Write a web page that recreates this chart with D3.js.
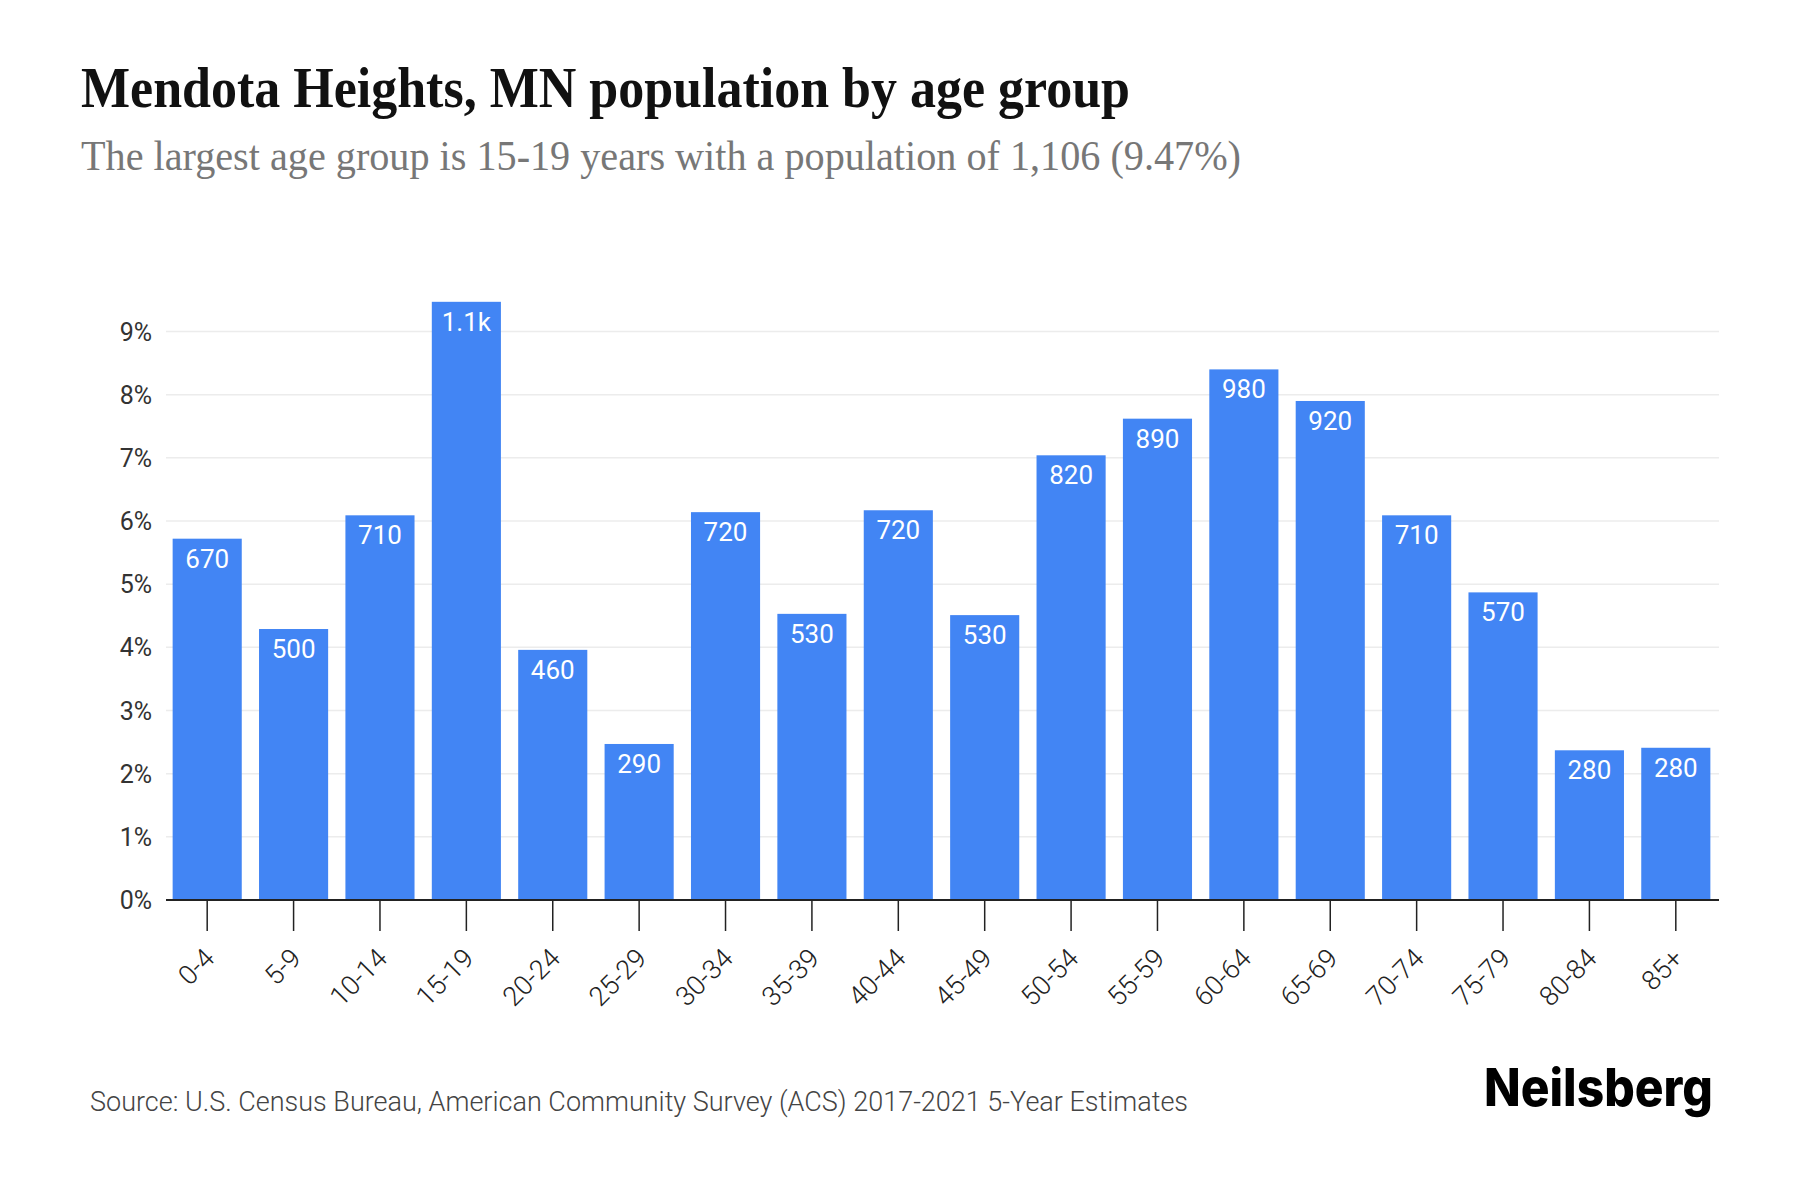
<!DOCTYPE html>
<html>
<head>
<meta charset="utf-8">
<script src="https://cdn.jsdelivr.net/npm/d3@7"></script>
<style>
  body { margin: 0; background: #fff; }
  svg { display: block; }
</style>
</head>
<body>
<div id="wrapper"></div>
<script>
const ageGroups = ["0-4", "5-9", "10-14", "15-19", "20-24", "25-29", "30-34", "35-39", "40-44",
  "45-49", "50-54", "55-59", "60-64", "65-69", "70-74", "75-79", "80-84", "85+"]
// share of total population, in percent
const percentages = [5.72, 4.29, 6.09, 9.47, 3.96, 2.47, 6.14, 4.53, 6.17,
  4.51, 7.04, 7.62, 8.40, 7.90, 6.09, 4.87, 2.37, 2.41]
const valueLabels = ["670", "500", "710", "1.1k", "460", "290", "720", "530", "720",
  "530", "820", "890", "980", "920", "710", "570", "280", "280"]
const yTicks = [0, 1, 2, 3, 4, 5, 6, 7, 8, 9]

const titleText = "Mendota Heights, MN population by age group"
const subtitleText = "The largest age group is 15-19 years with a population of 1,106 (9.47%)"
const sourceText = "Source: U.S. Census Bureau, American Community Survey (ACS) 2017-2021 5-Year Estimates"

const data = ageGroups.map((g, i) => ({ group: g, pct: percentages[i], label: valueLabels[i] }))

const dimensions = {
  width: 1800,
  height: 1200,
  margin: { top: 331.5, right: 81, bottom: 300, left: 164 }
}
dimensions.boundedWidth = dimensions.width - dimensions.margin.left - dimensions.margin.right
dimensions.boundedHeight = 900 - dimensions.margin.top

const svg = d3.select("#wrapper")
  .append("svg")
    .attr("width", dimensions.width)
    .attr("height", dimensions.height)

// titles
svg.append("text")
  .attr("x", 81)
  .attr("y", 107)
  .attr("font-family", "'Liberation Serif', serif")
  .attr("font-weight", 700)
  .attr("font-size", 56)
  .attr("textLength", 1049)
  .attr("lengthAdjust", "spacingAndGlyphs")
  .attr("fill", "#111")
  .text(titleText)

svg.append("text")
  .attr("x", 81)
  .attr("y", 170)
  .attr("font-family", "'Liberation Serif', serif")
  .attr("font-size", 42)
  .attr("textLength", 1160)
  .attr("lengthAdjust", "spacingAndGlyphs")
  .attr("fill", "#777")
  .text(subtitleText)

const bounds = svg.append("g")
  .attr("transform", `translate(${dimensions.margin.left}, ${dimensions.margin.top})`)

const xScale = d3.scaleBand()
  .domain(ageGroups)
  .range([0, dimensions.boundedWidth])
  .paddingInner(0.2)
  .paddingOuter(0.1)

const yScale = d3.scaleLinear()
  .domain([0, 9])
  .range([dimensions.boundedHeight, 0])

// gridlines
bounds.selectAll(".grid")
  .data(yTicks.filter(d => d > 0))
  .enter().append("line")
    .attr("class", "grid")
    .attr("x1", 2)
    .attr("x2", dimensions.boundedWidth)
    .attr("y1", d => yScale(d))
    .attr("y2", d => yScale(d))
    .attr("stroke", "#ececec")
    .attr("stroke-width", 1.5)

// y tick labels
bounds.selectAll(".ylabel")
  .data(yTicks)
  .enter().append("text")
    .attr("class", "ylabel")
    .attr("x", -12)
    .attr("y", d => yScale(d))
    .attr("dy", "0.36em")
    .attr("text-anchor", "end")
    .attr("font-family", "Roboto, sans-serif")
    .attr("font-size", 25)
    .attr("fill", "#333")
    .text(d => d + "%")

// bars
bounds.selectAll(".bar")
  .data(data)
  .enter().append("rect")
    .attr("class", "bar")
    .attr("x", d => xScale(d.group))
    .attr("width", xScale.bandwidth())
    .attr("y", d => yScale(d.pct))
    .attr("height", d => dimensions.boundedHeight - yScale(d.pct))
    .attr("fill", "#4285f4")

// value labels
bounds.selectAll(".value")
  .data(data)
  .enter().append("text")
    .attr("class", "value")
    .attr("x", d => xScale(d.group) + xScale.bandwidth() / 2)
    .attr("y", d => yScale(d.pct) + 29)
    .attr("text-anchor", "middle")
    .attr("font-family", "Roboto, sans-serif")
    .attr("font-size", 26)
    .attr("fill", "#fff")
    .text(d => d.label)

// x axis
const xAxis = d3.axisBottom(xScale)
  .tickSize(31)
  .tickSizeOuter(0)
  .tickFormat("")

const xAxisGroup = bounds.append("g")
  .attr("transform", `translate(0, ${dimensions.boundedHeight})`)
  .call(xAxis)

xAxisGroup.select(".domain")
  .attr("d", `M2,0H${dimensions.boundedWidth}`)
  .attr("stroke", "#222")
  .attr("stroke-width", 2)
xAxisGroup.selectAll(".tick line")
  .attr("stroke", "#222")
  .attr("stroke-width", 1.5)

bounds.selectAll(".xlabel")
  .data(ageGroups)
  .enter().append("text")
    .attr("class", "xlabel")
    .attr("transform", d => `translate(${xScale(d) + xScale.bandwidth() / 2 + 9}, ${dimensions.boundedHeight + 60}) rotate(-45)`)
    .attr("text-anchor", "end")
    .attr("font-family", "Roboto, sans-serif")
    .attr("font-weight", 300)
    .attr("font-size", 27)
    .attr("fill", "#222")
    .text(d => d)

// footer
svg.append("text")
  .attr("x", 90)
  .attr("y", 1111)
  .attr("font-family", "Roboto, sans-serif")
  .attr("font-weight", 300)
  .attr("font-size", 27)
  .attr("fill", "#444")
  .text(sourceText)

svg.append("text")
  .attr("x", 1484)
  .attr("y", 1106)
  .attr("font-family", "Inter, sans-serif")
  .attr("font-weight", 800)
  .attr("font-size", 52)
  .attr("textLength", 229)
  .attr("lengthAdjust", "spacingAndGlyphs")
  .attr("fill", "#000")
  .text("Neilsberg")
</script>
</body>
</html>
